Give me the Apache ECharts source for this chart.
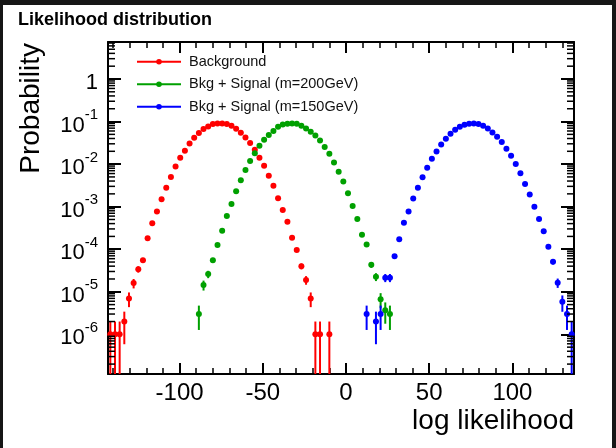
<!DOCTYPE html>
<html><head><meta charset="utf-8">
<script src="https://cdn.jsdelivr.net/npm/echarts@6/dist/echarts.min.js"></script>
<style>html,body{margin:0;padding:0;background:#fff;}#c{width:616px;height:448px;}</style>
</head><body><div id="c"></div>
<script>
// ---------- data ----------
const TITLE = 'Likelihood distribution';
const X_TITLE = 'log likelihood';
const Y_TITLE = 'Probability';
const SERIES_NAMES = ['Background', 'Bkg + Signal (m=200GeV)', 'Bkg + Signal (m=150GeV)'];
const SERIES_COLORS = ['#ff0000', '#00a000', '#0000ff'];
const X_MIN = -143, X_MAX = 137;     // histogram range
const BIN_WIDTH = 2.8;               // 100 bins
const Y_MIN = 1.17e-7, Y_MAX = 7.4;
const N_EVENTS = 1e6;                // used for the Poisson error bars

// probabilities per bin, starting at the given bin index (null = empty bin)
const redFirstBin = 0;
const redValues = [
  1e-6, 1e-6, 1e-6, 2e-6, 7e-6, 1.6e-5, 3.4e-5, 5.5e-5, 1.8e-4, 4.1e-4,
  7.7e-4, 1.5e-3, 2.8e-3, 5.0e-3, 8.8e-3, 0.0141, 0.0206, 0.0305, 0.0416, 0.0536,
  0.0666, 0.0767, 0.0873, 0.0902, 0.0902, 0.0873, 0.0796, 0.0677, 0.0545, 0.0423,
  0.0312, 0.0217, 0.0141, 9.1e-3, 5.3e-3, 3.1e-3, 1.58e-3, 8.4e-4, 4.4e-4, 1.85e-4,
  9.6e-5, 4e-5, 1.9e-5, 7e-6, 1e-6, 1e-6, null, 1e-6
];
const greenFirstBin = 19;
const greenValues = [
  3e-6, 1.45e-5, 2.6e-5, 5.5e-5, 1.26e-4, 2.7e-4, 6.0e-4, 1.15e-3, 2.3e-3, 4.2e-3,
  7.3e-3, 0.0118, 0.0181, 0.0270, 0.0373, 0.0481, 0.0601, 0.075, 0.085, 0.089,
  0.0902, 0.0885, 0.0796, 0.0688, 0.0576, 0.0471, 0.0359, 0.0251, 0.0175, 0.0109,
  6.6e-3, 3.9e-3, 2.08e-3, 1.04e-3, 5.1e-4, 2.2e-4, 1.3e-4, 4.3e-5, 2.26e-5, 6.7e-6,
  3.7e-6, 3e-6
];
const blueFirstBin = 55;
const blueValues = [
  3e-6, null, 2e-6, 3e-6, 2.15e-5, 2.15e-5, 6.8e-5, 1.72e-4, 4.2e-4, 7.7e-4,
  1.55e-3, 2.77e-3, 4.94e-3, 8.2e-3, 0.0133, 0.0198, 0.0289, 0.0394, 0.0516, 0.0641,
  0.0755, 0.0841, 0.0887, 0.0902, 0.0873, 0.0796, 0.0688, 0.0554, 0.0439, 0.0330,
  0.0229, 0.0157, 0.0100, 6.1e-3, 3.4e-3, 1.93e-3, 1.0e-3, 5.1e-4, 2.65e-4, 1.15e-4,
  5.1e-5, 1.64e-5, 5.8e-6, 3e-6, 1e-6
];
const X_TICK_STEP_LABEL = 50;

// ---------- build ----------
function toPoints(first, vals) {
  return vals.map((v, i) => [X_MIN + (first + i + 0.5) * BIN_WIDTH, v]);
}
const seriesPts = [
  toPoints(redFirstBin, redValues),
  toPoints(greenFirstBin, greenValues),
  toPoints(blueFirstBin, blueValues)
];

const FONT = '"Liberation Sans", Arial, Helvetica, sans-serif';

function errSeries(i) {
  const color = SERIES_COLORS[i];
  return {
    type: 'custom', name: 'err' + i, silent: true, z: 3 + i * 2, animation: false,
    data: seriesPts[i].filter(p => p[1] != null),
    renderItem(params, api) {
      const x = api.value(0), y = api.value(1);
      const err = Math.sqrt(y / N_EVENTS);
      const lo = Math.max(y - err, Y_MIN), hi = Math.min(y + err, Y_MAX);
      const p0 = api.coord([x, lo]), p1 = api.coord([x, hi]);
      const l = api.coord([x - BIN_WIDTH / 2, y]), r = api.coord([x + BIN_WIDTH / 2, y]);
      return {
        type: 'group', children: [
          { type: 'line', shape: { x1: p0[0], y1: p0[1], x2: p1[0], y2: p1[1] }, style: { stroke: color, lineWidth: 2 } },
          { type: 'line', shape: { x1: l[0], y1: l[1], x2: r[0], y2: r[1] }, style: { stroke: color, lineWidth: 2 } }
        ]
      };
    }
  };
}
function pointSeries(i) {
  return {
    type: 'line', name: SERIES_NAMES[i], data: seriesPts[i], z: 4 + i * 2,
    symbol: 'circle', symbolSize: 6, showSymbol: true,
    lineStyle: { opacity: 0, width: 2 }, itemStyle: { color: SERIES_COLORS[i] },
    emphasis: { disabled: true }, animation: false, connectNulls: false
  };
}

// log minor ticks (2..9 x 10^n)
const minorLogVals = [];
for (let e = -8; e <= 1; e++) for (let m = 2; m <= 9; m++) {
  const v = m * Math.pow(10, e);
  if (v > Y_MIN && v < Y_MAX) minorLogVals.push([X_MIN, v]);
}
const minorTickSeries = {
  type: 'custom', name: 'minorLog', silent: true, z: 10, animation: false,
  data: minorLogVals,
  renderItem(params, api) {
    const pl = api.coord([X_MIN, api.value(1)]);
    const pr = api.coord([X_MAX, api.value(1)]);
    return {
      type: 'group', children: [
        { type: 'line', shape: { x1: pl[0], y1: pl[1], x2: pl[0] + 7, y2: pl[1] }, style: { stroke: '#000', lineWidth: 1.5 } },
        { type: 'line', shape: { x1: pr[0] - 7, y1: pr[1], x2: pr[0], y2: pr[1] }, style: { stroke: '#000', lineWidth: 1.5 } }
      ]
    };
  }
};

const axisLineStyle = { color: '#000', width: 2 };
function xAxisCfg(pos, labels) {
  return {
    type: 'value', position: pos, min: X_MIN, max: X_MAX,
    axisLine: { show: true, onZero: false, lineStyle: axisLineStyle },
    axisTick: { show: true, inside: true, length: 11, lineStyle: { color: '#000', width: 2 } },
    minorTick: { show: true, splitNumber: 5, length: 6, lineStyle: { color: '#000', width: 1.5 } },
    splitLine: { show: false }, minorSplitLine: { show: false },
    axisLabel: {
      show: labels, margin: 7, fontSize: 24, color: '#000', fontFamily: FONT, hideOverlap: false,
      showMinLabel: false, showMaxLabel: false,
      formatter: v => (Math.abs(v % X_TICK_STEP_LABEL) < 1e-9 ? String(v) : '')
    }
  };
}
function yAxisCfg(pos, labels) {
  return {
    type: 'log', logBase: 10, position: pos, min: Y_MIN, max: Y_MAX,
    axisLine: { show: true, onZero: false, lineStyle: axisLineStyle },
    axisTick: { show: true, inside: true, length: 13, lineStyle: { color: '#000', width: 2 } },
    splitLine: { show: false },
    axisLabel: {
      show: labels, margin: 10, color: '#000', fontFamily: FONT, hideOverlap: false,
      showMinLabel: false, showMaxLabel: false, padding: [8, 0, 0, 0],
      formatter: v => {
        const e = Math.log10(v), r = Math.round(e);
        if (Math.abs(e - r) > 1e-6) return '';
        if (r === 0) return '{b|1}';
        return '{b|10}{s|' + r + '}';
      },
      rich: {
        b: { fontSize: 22, lineHeight: 36, color: '#000', fontFamily: FONT },
        s: { fontSize: 15, lineHeight: 22, verticalAlign: 'top', color: '#000', fontFamily: FONT }
      }
    }
  };
}

const chart = echarts.init(document.getElementById('c'), null, { renderer: 'canvas' });
chart.setOption({
  backgroundColor: '#ffffff',
  animation: false,
  grid: { left: 108, top: 42, right: 42, bottom: 74, containLabel: false },
  xAxis: [xAxisCfg('bottom', true), xAxisCfg('top', false)],
  yAxis: [yAxisCfg('left', true), yAxisCfg('right', false)],
  legend: {
    data: SERIES_NAMES, orient: 'vertical', left: 136, top: 50.5, padding: 0,
    itemWidth: 44, itemHeight: 7, itemGap: 0, selectedMode: false,
    textStyle: { fontSize: 14.5, color: '#111', fontFamily: FONT, lineHeight: 22.5, padding: [0, 0, 0, 3] },
    lineStyle: { width: 2, opacity: 1 }
  },
  series: [
    errSeries(0), pointSeries(0),
    errSeries(1), pointSeries(1),
    errSeries(2), pointSeries(2),
    minorTickSeries
  ],
  graphic: [
    { type: 'text', x: 18, y: 20, style: { text: TITLE, font: 'bold 18px ' + FONT, fill: '#000', align: 'left', verticalAlign: 'middle' } },
    { type: 'text', x: 31, y: 43, rotation: Math.PI / 2, style: { text: Y_TITLE, font: '28px ' + FONT, fill: '#000', align: 'right', verticalAlign: 'middle' } },
    { type: 'text', x: 574, y: 421, style: { text: X_TITLE, font: '28px ' + FONT, fill: '#000', align: 'right', verticalAlign: 'middle' } },
    { type: 'rect', shape: { x: 0, y: 0, width: 616, height: 5 }, style: { fill: '#161616' }, z: 100 },
    { type: 'rect', shape: { x: 0, y: 0, width: 3, height: 448 }, style: { fill: '#161616' }, z: 100 },
    { type: 'rect', shape: { x: 612, y: 0, width: 4, height: 448 }, style: { fill: '#161616' }, z: 100 }
  ]
});
</script>
</body></html>
